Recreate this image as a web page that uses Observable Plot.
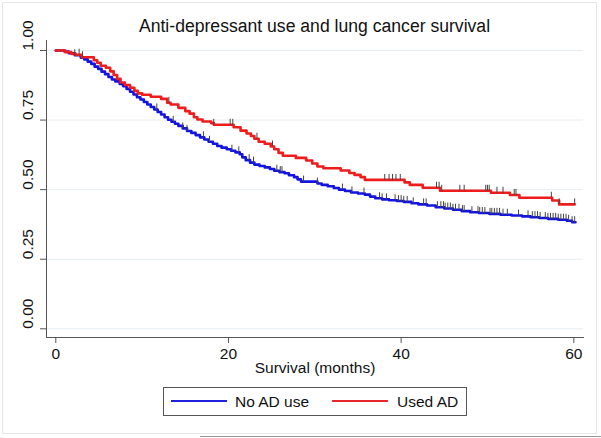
<!DOCTYPE html>
<html>
<head>
<meta charset="utf-8">
<script src="https://cdn.jsdelivr.net/npm/d3@7"></script>
<script src="https://cdn.jsdelivr.net/npm/@observablehq/plot@0.6"></script>
<style>
  html, body { margin: 0; padding: 0; background: #fff; }
  body { width: 601px; height: 438px; position: relative; overflow: hidden;
         font-family: "Liberation Sans", Arial, Helvetica, sans-serif; color: #111; }
  #outer { position: absolute; left: 2px; top: 2px; width: 595px; height: 432px;
           border: 1px solid #e6e6e6; box-sizing: border-box; }
  #title { position: absolute; left: 46px; width: 537px; top: 16px; text-align: center;
           font-size: 17.6px; line-height: 21px; z-index: 2; }
  #chart { position: absolute; left: 0; top: 0; z-index: 1; }
  #legend { position: absolute; left: 163px; top: 387px; width: 304px; height: 29px;
            border: 1px solid #555; box-sizing: border-box; font-size: 15.5px; }
  .sw { position: absolute; top: 12px; height: 2px; width: 56px; }
  .lt { position: absolute; top: 5px; line-height: 17px; }
  #artifact { position: absolute; left: 200px; top: 436px; width: 401px; height: 1px; background: #9a9a9a; }
</style>
</head>
<body>
<div id="outer"></div>
<div id="chart"></div>
<div id="title">Anti-depressant use and lung cancer survival</div>
<div id="legend">
  <div class="sw" style="left:7px; background:#1f1fe0;"></div>
  <div class="lt" style="left:71px;">No AD use</div>
  <div class="sw" style="left:168px; background:#e8262a;"></div>
  <div class="lt" style="left:233px;">Used AD</div>
</div>
<div id="artifact"></div>
<script>
// ---- Data ----
const groups = ["No AD use", "Used AD"];
const colors = ["#1414e0", "#ee1c1c"];

// Kaplan-Meier step curve: No AD use (time in months, survival)
const noAdTime = [0, 1.0, 1.5, 2.2, 2.9, 3.3, 3.7, 4.1, 4.5, 4.9, 5.3, 5.7, 6.1, 6.5, 6.9, 7.4, 7.8, 8.2, 8.6, 9.0,
  9.4, 9.8, 10.2, 10.6, 11.0, 11.4, 11.8, 12.2, 12.6, 13.0, 13.4, 13.8, 14.2, 14.7, 15.2, 15.7, 16.2, 16.7, 17.2, 17.7,
  18.2, 18.7, 19.2, 19.8, 20.3, 20.8, 21.3, 21.6, 22.0, 22.5, 23.0, 23.6, 24.2, 24.8, 25.3, 25.9, 26.5, 27.0, 27.6, 28.0,
  28.4, 30.3, 30.8, 31.5, 32.2, 32.8, 33.5, 34.2, 35.0, 35.8, 36.4, 37.0, 37.8, 38.6, 39.5, 40.3, 41.2, 42.0, 43.0, 44.0,
  45.0, 46.0, 47.0, 48.0, 49.0, 50.2, 51.5, 52.8, 54.0, 55.0, 56.0, 57.0, 58.2, 59.2, 59.8, 60.2];
const noAdSurv = [1.000, 0.996, 0.990, 0.983, 0.974, 0.968, 0.960, 0.952, 0.942, 0.934, 0.924, 0.915, 0.905, 0.896, 0.889, 0.880, 0.872, 0.862, 0.852, 0.842,
  0.832, 0.824, 0.815, 0.806, 0.797, 0.788, 0.779, 0.770, 0.760, 0.751, 0.744, 0.737, 0.729, 0.720, 0.711, 0.704, 0.696, 0.688, 0.680, 0.672,
  0.665, 0.657, 0.651, 0.645, 0.640, 0.634, 0.627, 0.616, 0.606, 0.597, 0.590, 0.585, 0.580, 0.574, 0.568, 0.563, 0.559, 0.552, 0.545, 0.537,
  0.529, 0.522, 0.517, 0.512, 0.506, 0.500, 0.495, 0.490, 0.486, 0.482, 0.475, 0.469, 0.465, 0.462, 0.459, 0.456, 0.451, 0.447, 0.443, 0.437,
  0.432, 0.428, 0.423, 0.419, 0.416, 0.413, 0.410, 0.407, 0.404, 0.401, 0.398, 0.395, 0.392, 0.388, 0.383, 0.383];

// Kaplan-Meier step curve: Used AD
const usedAdTime = [0, 1.1, 1.8, 2.3, 3.0, 4.4, 4.8, 5.2, 5.8, 6.3, 6.7, 7.1, 7.5, 8.0, 8.6, 9.1, 9.5, 10.0, 11.0, 12.2,
  12.9, 13.3, 14.2, 15.0, 15.5, 16.0, 16.4, 17.0, 18.0, 18.3, 20.6, 21.4, 22.1, 22.6, 23.0, 23.5, 24.2, 24.9, 25.3, 25.8,
  26.3, 27.8, 29.0, 29.7, 30.3, 31.0, 33.0, 34.0, 34.6, 35.3, 35.8, 40.4, 41.0, 42.5, 44.5, 50.4, 52.6, 53.7, 57.5, 58.3, 60.1];
const usedAdSurv = [1.000, 0.994, 0.988, 0.985, 0.976, 0.965, 0.956, 0.945, 0.938, 0.925, 0.912, 0.898, 0.885, 0.876, 0.866, 0.855, 0.846, 0.841, 0.834, 0.826,
  0.812, 0.806, 0.794, 0.782, 0.773, 0.760, 0.752, 0.745, 0.739, 0.733, 0.724, 0.712, 0.702, 0.693, 0.683, 0.672, 0.665, 0.655, 0.645, 0.632,
  0.622, 0.614, 0.605, 0.594, 0.583, 0.577, 0.569, 0.560, 0.553, 0.545, 0.535, 0.526, 0.517, 0.507, 0.496, 0.489, 0.481, 0.471, 0.461, 0.447, 0.447];

// Censoring times
const noAdCensor = [2.2, 11.7, 13.6, 14.7, 15.2, 17.1, 17.8, 20.4, 21.2, 22.4, 22.9, 25.6, 26.0, 26.2, 28.7, 30.3, 33.2, 34.3,
  35.7, 37.5, 37.8, 38.3, 39.3, 39.7, 40.0, 40.3, 40.7, 41.4, 42.6, 42.9, 44.2, 44.6, 44.9, 45.1, 45.4, 45.7, 46.0, 46.3,
  46.7, 47.1, 47.3, 48.2, 48.9, 49.1, 49.4, 49.7, 50.3, 50.5, 50.8, 51.1, 51.4, 51.8, 52.3, 53.6, 54.7, 55.2, 55.5, 55.8,
  56.1, 56.7, 57.0, 57.3, 57.6, 57.9, 58.2, 58.5, 58.8, 59.1, 59.4, 59.8, 60.1];
const usedAdCensor = [2.7, 3.1, 13.1, 18.3, 20.2, 20.5, 23.3, 25.1, 38.1, 38.6, 39.0, 39.4, 39.9, 44.1, 44.4, 44.7, 46.8, 47.3,
  49.8, 50.0, 50.2, 51.1, 51.8, 53.1, 53.3, 57.4, 58.3, 60.1];

const xTicks = [0, 20, 40, 60];
const yTicks = [0, 0.25, 0.5, 0.75, 1];
const xLabel = "Survival (months)";

// ---- Build tables ----
const curves = [
  noAdTime.map((t, i) => ({group: groups[0], t, s: noAdSurv[i]})),
  usedAdTime.map((t, i) => ({group: groups[1], t, s: usedAdSurv[i]}))
];
function survAt(curve, t) {
  let s = curve[0].s;
  for (const p of curve) { if (p.t <= t) s = p.s; else break; }
  return s;
}
const censors = [
  noAdCensor.map(t => ({group: groups[0], t, s: survAt(curves[0], t)})),
  usedAdCensor.map(t => ({group: groups[1], t, s: survAt(curves[1], t)}))
];
const tickSymbol = { draw(ctx) { ctx.moveTo(0, 0); ctx.lineTo(0, -6); } };

const chart = Plot.plot({
  width: 601,
  height: 382,
  marginLeft: 46, marginRight: 18, marginTop: 40, marginBottom: 45,
  x: {domain: [0, 60], insetLeft: 9.3, insetRight: 9.7},
  y: {domain: [0, 1], insetTop: 10, insetBottom: 8.7},
  style: {fontFamily: "'Liberation Sans', Arial, Helvetica, sans-serif", fontSize: "15.5px", color: "#111", background: "transparent"},
  marks: [
    Plot.gridY(yTicks, {stroke: "#e6edf2", strokeOpacity: 1}),
    Plot.frame({anchor: "left", stroke: "#555"}),
    Plot.frame({anchor: "bottom", stroke: "#555"}),
    Plot.axisY(yTicks, {tickSize: 6, tickFormat: () => "", stroke: "#555", label: null}),
    Plot.text(yTicks, {y: d => d, text: d => d.toFixed(2), frameAnchor: "left", dx: -18, rotate: -90, fontSize: 15.5, fill: "#111"}),
    Plot.axisX(xTicks, {tickSize: 6, tickPadding: 4, stroke: "#555", fontSize: 15.5, label: null, fill: "#111"}),
    Plot.text([xLabel], {frameAnchor: "bottom", dy: 35, fontSize: 15.5, fill: "#111"}),
    Plot.line(curves[0], {x: "t", y: "s", curve: "step-after", stroke: colors[0], strokeWidth: 2.6}),
    Plot.line(curves[1], {x: "t", y: "s", curve: "step-after", stroke: colors[1], strokeWidth: 2.6}),
    Plot.dot(censors[0], {x: "t", y: "s", symbol: tickSymbol, stroke: "#444", strokeWidth: 1, r: 3}),
    Plot.dot(censors[1], {x: "t", y: "s", symbol: tickSymbol, stroke: "#444", strokeWidth: 1, r: 3})
  ]
});
document.getElementById("chart").appendChild(chart);
</script>
</body>
</html>
